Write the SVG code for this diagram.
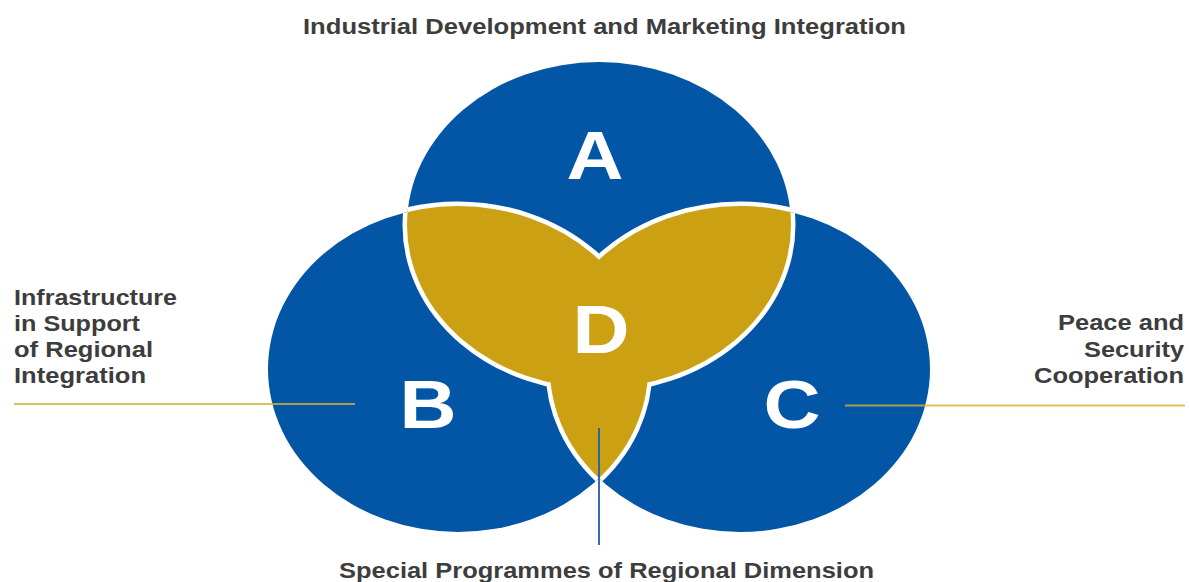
<svg xmlns="http://www.w3.org/2000/svg" width="1189" height="582" viewBox="0 0 1189 582">
<style>
.blue{fill:#0256a5}
.gold{fill:#cba113}
.edge{fill:none;stroke:#ffffff;stroke-width:9}
.letter{font-family:"Liberation Sans",Arial,sans-serif;font-weight:bold;font-size:68px;fill:#ffffff;text-anchor:middle}
.label{font-family:"Liberation Sans",Arial,sans-serif;font-weight:bold;font-size:22px;fill:#3d3d3d}
.end{text-anchor:end}
.lead{stroke:#d4af37;stroke-opacity:0.8;stroke-width:2;fill:none}
.stem{stroke:#1f5fa8;stroke-opacity:0.9;stroke-width:2;fill:none}
</style>
<defs>
<clipPath id="cA"><ellipse cx="599" cy="225" rx="192" ry="163"/></clipPath>
<clipPath id="cB"><ellipse cx="458" cy="369" rx="190" ry="163"/></clipPath>
<clipPath id="cC"><ellipse cx="740" cy="369" rx="190" ry="163"/></clipPath>
</defs>
<rect width="1189" height="582" fill="#ffffff"/>

<g id="node-A">
<ellipse class="blue" cx="599" cy="225" rx="192" ry="163"/>
<text class="letter" x="595" y="179" textLength="57" lengthAdjust="spacingAndGlyphs">A</text>
</g>
<g id="node-B">
<ellipse class="blue" cx="458" cy="369" rx="190" ry="163"/>
<text class="letter" x="428" y="428" textLength="57" lengthAdjust="spacingAndGlyphs">B</text>
</g>
<g id="node-C">
<ellipse class="blue" cx="740" cy="369" rx="190" ry="163"/>
<text class="letter" x="792" y="428" textLength="57" lengthAdjust="spacingAndGlyphs">C</text>
</g>

<g id="node-D">
<ellipse class="edge" cx="599" cy="225" rx="192" ry="163" clip-path="url(#cB)"/>
<ellipse class="edge" cx="599" cy="225" rx="192" ry="163" clip-path="url(#cC)"/>
<ellipse class="edge" cx="458" cy="369" rx="190" ry="163" clip-path="url(#cA)"/>
<ellipse class="edge" cx="458" cy="369" rx="190" ry="163" clip-path="url(#cC)"/>
<ellipse class="edge" cx="740" cy="369" rx="190" ry="163" clip-path="url(#cA)"/>
<ellipse class="edge" cx="740" cy="369" rx="190" ry="163" clip-path="url(#cB)"/>
<ellipse class="gold" cx="599" cy="225" rx="192" ry="163" clip-path="url(#cB)"/>
<ellipse class="gold" cx="599" cy="225" rx="192" ry="163" clip-path="url(#cC)"/>
<ellipse class="gold" cx="458" cy="369" rx="190" ry="163" clip-path="url(#cC)"/>
<text class="letter" x="601" y="353" textLength="57" lengthAdjust="spacingAndGlyphs">D</text>
</g>

<g id="connectors">
<line class="lead" x1="14" y1="404" x2="355" y2="404"/>
<line class="lead" x1="845" y1="405.5" x2="1185" y2="405.5"/>
<line class="stem" x1="599" y1="428" x2="599" y2="545"/>
</g>

<g id="label-A">
<text class="label" x="303" y="34" textLength="603" lengthAdjust="spacingAndGlyphs">Industrial Development and Marketing Integration</text>
</g>
<g id="label-B">
<text class="label" x="14" y="305" textLength="163" lengthAdjust="spacingAndGlyphs">Infrastructure</text>
<text class="label" x="14" y="331" textLength="126" lengthAdjust="spacingAndGlyphs">in Support</text>
<text class="label" x="14" y="357" textLength="139" lengthAdjust="spacingAndGlyphs">of Regional</text>
<text class="label" x="14" y="383" textLength="132" lengthAdjust="spacingAndGlyphs">Integration</text>
</g>
<g id="label-C">
<text class="label end" x="1184" y="330" textLength="126" lengthAdjust="spacingAndGlyphs">Peace and</text>
<text class="label end" x="1184" y="357" textLength="100" lengthAdjust="spacingAndGlyphs">Security</text>
<text class="label end" x="1184" y="383" textLength="150" lengthAdjust="spacingAndGlyphs">Cooperation</text>
</g>
<g id="label-D">
<text class="label" x="339" y="578" textLength="535" lengthAdjust="spacingAndGlyphs">Special Programmes of Regional Dimension</text>
</g>
</svg>
